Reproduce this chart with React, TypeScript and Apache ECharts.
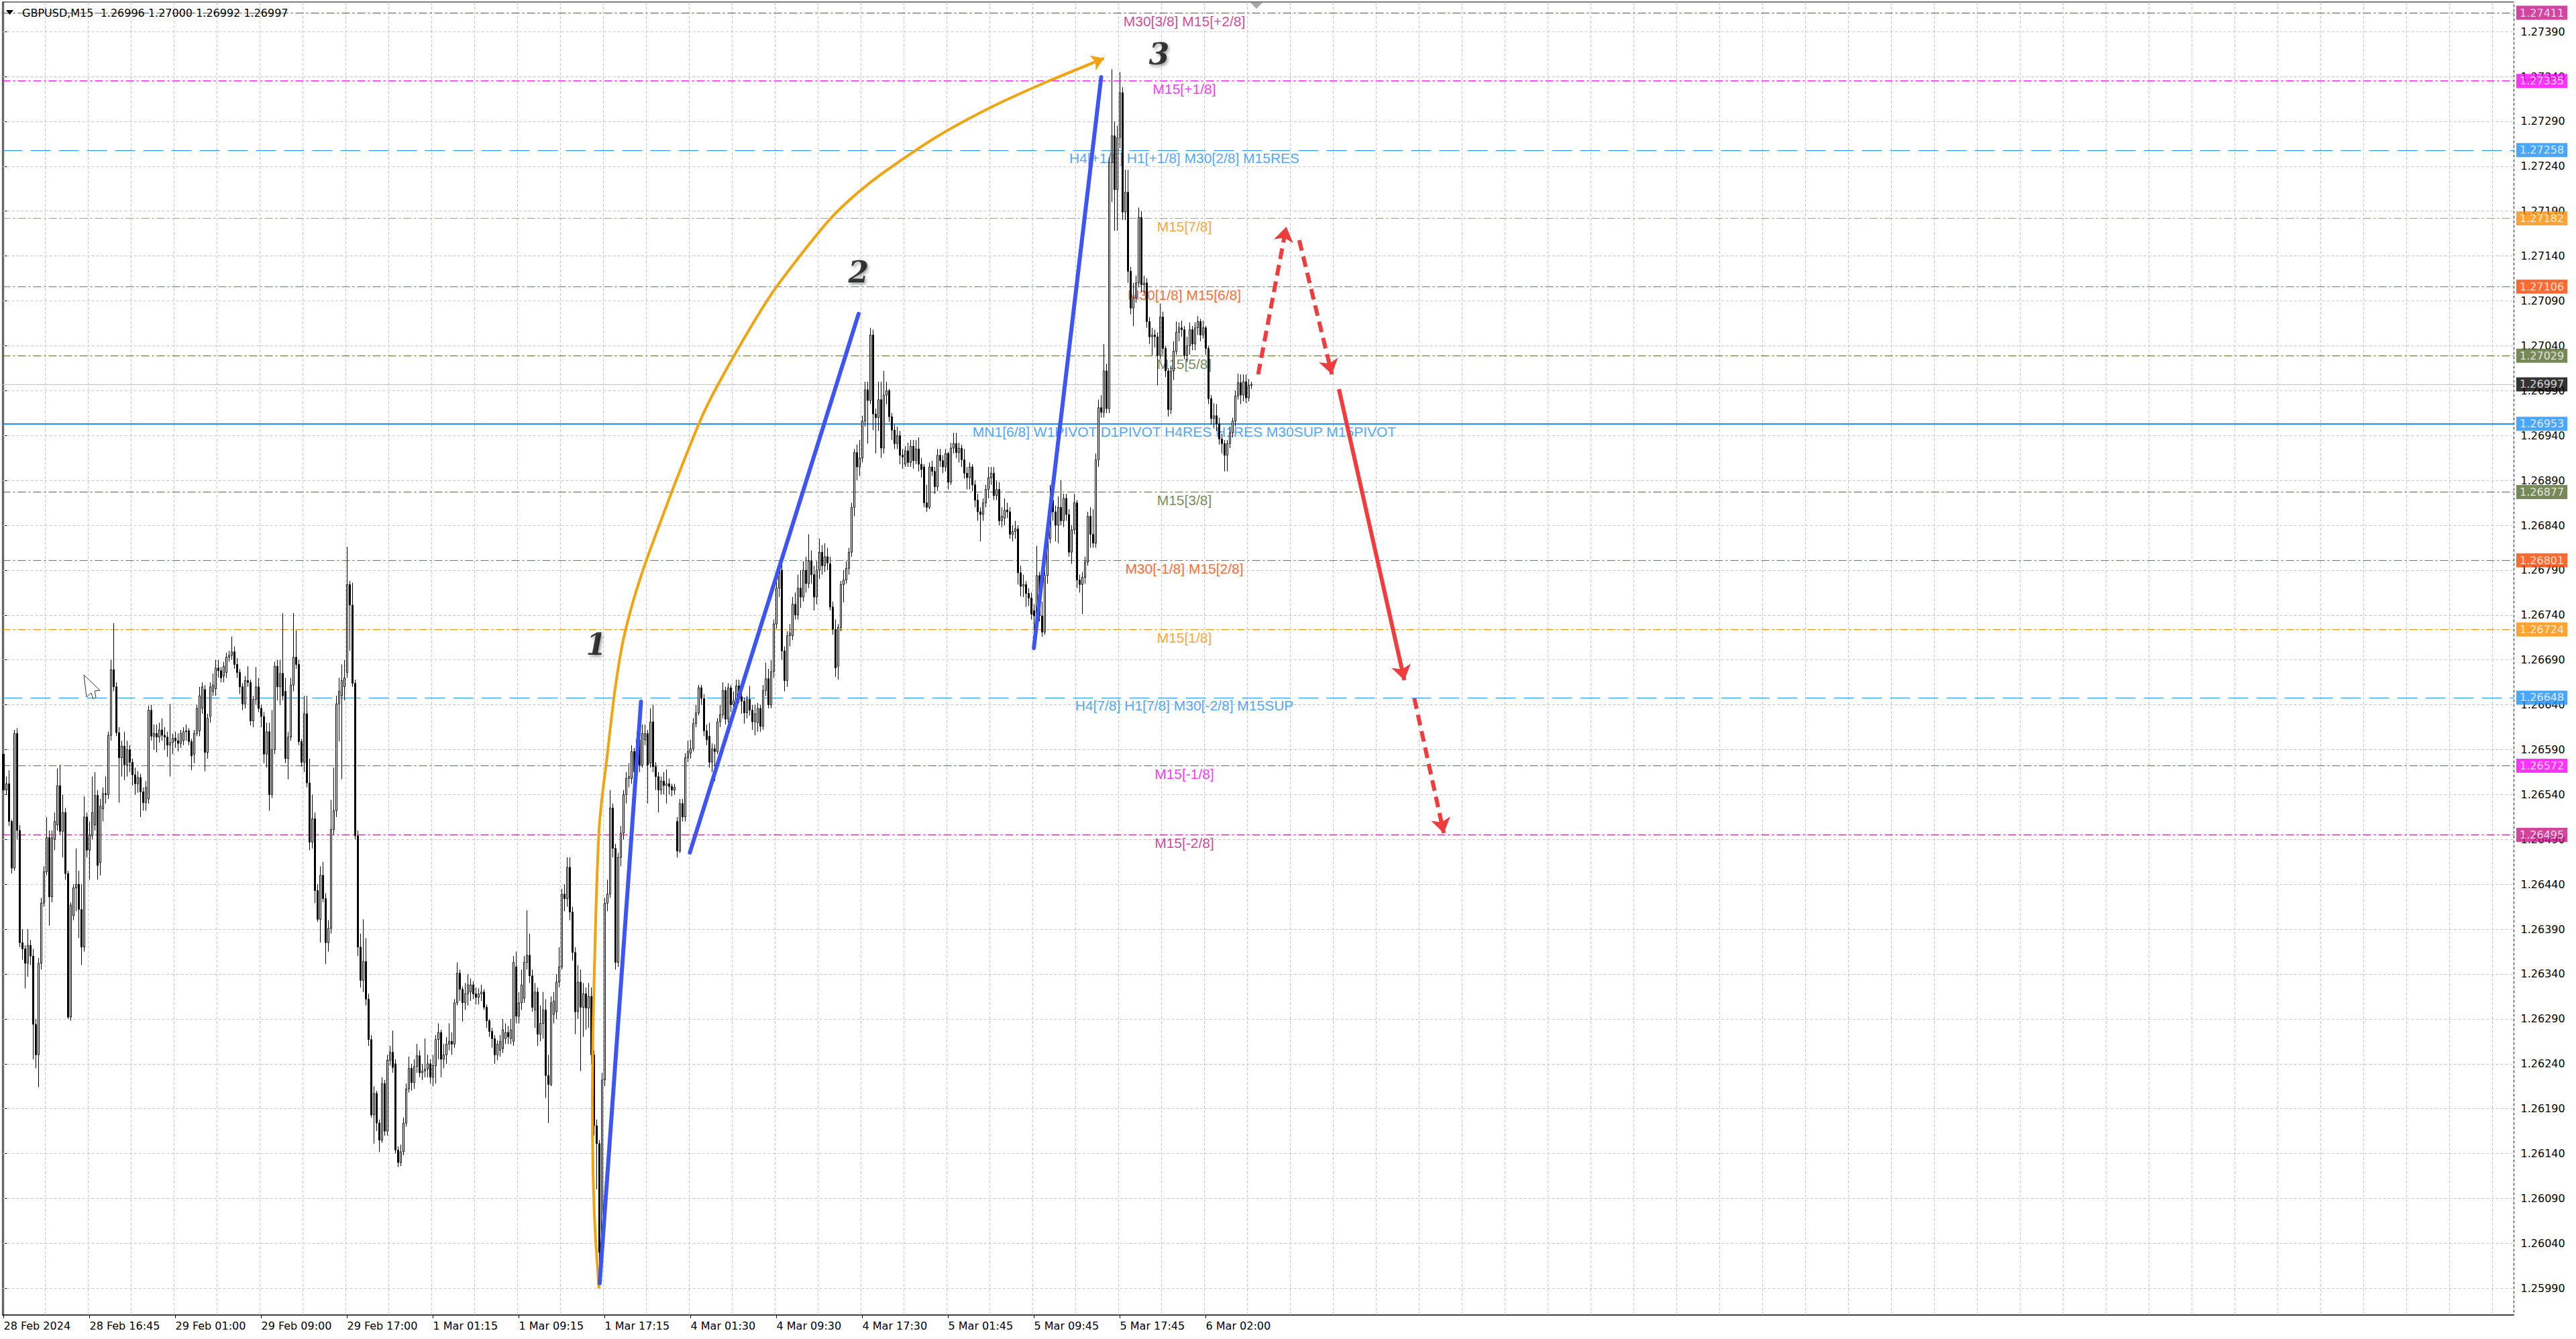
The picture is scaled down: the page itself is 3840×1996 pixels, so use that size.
import React, { useEffect, useRef } from "react";
import * as echarts from "echarts";

// ---------------- DATA ----------------
const SYMBOL = "GBPUSD,M15";
const BASE = 1.26;
const PT = 0.00001;

// rows: [open, high, low, close] in points above 1.26000
const feb28: number[][] = [
  [585,600,538,545],[545,560,540,552],[552,567,505,510],[510,512,452,458],[458,612,455,608],
  [608,614,490,500],[500,506,370,375],[375,390,356,368],[368,372,324,352],[352,390,337,372],
  [372,378,350,360],[360,368,245,284],[284,290,235,250],[250,358,214,352],[352,425,345,419],
  [419,460,415,454],[454,515,450,492],[492,500,394,426],[426,500,420,492],[490,520,478,510],
  [506,569,500,550],[550,573,495,499],[499,540,470,520],[520,525,445,452],[452,455,290,292],
  [292,420,288,417],[405,440,400,436],[436,480,410,440],[440,455,380,412],[412,440,350,370],
  [370,538,365,515],[515,520,470,478],[478,510,445,495],[494,560,490,520],[506,565,500,539],
  [539,545,445,461],[464,535,450,527],[524,548,510,541],[541,560,530,540],[540,610,535,606],
  [606,690,600,679],[679,731,655,660],[660,665,605,609],[609,615,531,581],[581,600,560,594],
  [594,610,556,573],[573,600,560,590],[590,595,565,576],[576,580,550,562],[562,570,540,552],
  [552,566,542,559],[559,563,515,543],[543,548,522,531],[531,555,522,548],[535,639,530,634],
  [634,640,600,605],[605,618,590,608],[608,618,587,604],[604,620,598,612],[612,625,600,606],
  [606,615,590,604],
];
const feb29: number[][] = [
  [604,610,582,595],[595,641,560,598],[598,608,585,603],[603,610,592,600],[600,608,588,597],
  [597,612,592,608],[600,615,595,610],[610,618,600,611],[611,614,595,599],[599,602,567,583],
  [585,612,575,608],[608,640,605,636],[611,660,605,650],[636,665,630,660],[657,662,566,587],
  [587,630,580,625],[627,665,620,660],[655,675,650,662],[658,690,650,681],[681,690,670,678],
  [678,682,665,670],[672,688,665,683],[676,698,670,693],[693,700,688,695],[695,716,690,699],
  [699,705,680,685],[685,692,670,676],[676,680,652,660],[660,664,634,641],[641,672,636,667],
  [667,683,660,665],[665,668,617,622],[622,650,615,646],[646,682,640,660],[660,670,632,636],
  [636,640,615,627],[627,632,575,585],[585,620,570,610],[610,620,522,540],[540,634,536,590],
  [590,688,585,683],[683,690,645,660],[660,690,640,675],[675,742,645,650],[655,670,575,580],
  [580,610,557,604],[604,670,600,662],[662,742,655,693],[693,723,680,685],[685,690,595,599],
  [599,602,571,576],[576,650,565,630],[630,650,548,553],[553,580,478,487],[487,540,480,513],
  [513,520,419,433],[433,440,398,401],[401,460,375,450],[450,465,420,424],[424,430,351,375],
  [375,400,365,391],[391,534,385,501],[501,570,495,522],[522,650,515,641],[641,670,599,655],
  [650,685,557,667],[660,690,645,670],[676,816,670,774],[774,778,700,751],[751,776,660,664],
  [664,668,490,494],[494,500,360,370],[370,385,325,333],[333,401,320,354],[354,380,305,312],
  [312,318,260,267],[267,272,180,183],[183,215,151,207],[207,210,165,174],[174,178,142,155],
  [155,225,152,218],[218,222,160,165],[165,250,160,244],[244,260,238,253],[253,277,230,236],
  [240,245,140,144],[144,148,125,130],[130,150,126,142],[142,180,138,174],[174,218,170,212],
  [212,248,208,235],[235,240,210,219],[219,245,212,237],[237,262,230,249],[249,255,225,230],
  [230,240,222,232],
];
const mar1: number[][] = [
  [232,268,225,234],[234,250,225,240],[240,245,218,225],[225,250,215,238],
  [238,272,218,267],[267,285,245,275],[275,278,225,245],[245,262,235,250],[250,270,240,262],
  [262,285,255,265],[265,275,250,262],[262,312,258,308],[308,353,305,341],[341,345,310,323],
  [323,326,287,308],[308,330,300,318],[318,340,305,328],[320,335,310,328],[328,332,312,318],
  [318,325,306,314],[314,324,306,318],[318,328,310,320],[320,323,300,303],[303,306,280,288],
  [288,290,270,276],[276,280,258,268],[268,272,240,250],[250,266,244,262],[255,272,248,265],
  [257,290,252,278],[268,285,262,275],[275,282,262,270],[268,290,262,278],[265,360,260,353],
  [348,365,285,293],[293,320,285,308],[308,345,300,328],[313,360,308,353],[353,411,345,361],
  [361,385,330,338],[338,345,298,303],[300,330,280,320],[320,325,260,273],[273,305,265,285],
  [285,320,268,300],[300,312,202,227],[227,250,174,217],[217,315,215,308],[295,320,285,310],
  [298,340,290,331],[331,370,325,348],[348,435,345,429],[429,440,410,424],[424,470,415,459],
  [459,470,400,409],[409,415,355,364],[364,370,273,298],[298,350,290,331],[331,345,232,303],
  [303,330,270,318],[318,325,278,302],[302,330,280,315],[315,325,240,250],[250,255,160,171],
  [171,178,100,151],[151,155,15,30],[30,230,20,222],[222,425,215,419],[419,445,410,429],
  [429,545,425,525],[525,530,470,480],[480,485,345,353],[353,475,348,470],[470,505,460,497],
  [497,545,490,540],[540,565,530,558],[558,575,548,560],[558,595,552,588],[588,592,555,565],
  [563,610,558,601],[601,606,565,573],[573,618,570,608],[601,618,595,608],[608,612,530,573],
  [575,636,570,621],[621,640,565,571],[571,576,545,560],[560,565,520,545],[545,560,540,555],
  [555,565,540,550],[550,568,530,552],[552,558,540,549],[549,552,538,545],[545,552,540,548],
];
const mar4: number[][] = [
  [510,515,470,477],[477,535,475,530],[530,535,510,515],[515,586,510,581],[581,600,576,588],
  [586,601,580,591],[591,625,588,619],[619,640,615,631],[631,662,628,659],[659,662,640,647],
  [647,652,605,611],[611,618,595,601],[605,620,570,576],[576,597,565,591],[591,596,555,588],
  [588,625,585,621],[621,640,615,629],[629,665,625,656],[656,660,618,624],[624,664,620,659],
  [659,662,632,640],[640,655,635,645],[645,668,640,661],[661,668,642,649],[649,656,630,644],
  [644,648,619,631],[631,650,625,646],[646,661,628,634],[634,640,612,621],[621,640,606,630],
  [620,642,610,636],[636,640,610,616],[616,662,612,656],[656,687,650,669],[669,680,636,640],
  [640,690,636,677],[677,735,670,730],[730,780,725,770],[770,800,760,790],[790,800,690,700],
  [700,705,655,667],[667,722,660,717],[717,730,705,720],[717,760,712,752],[752,765,735,740],
  [740,785,735,770],[770,790,748,760],[760,800,755,790],[790,805,765,775],[775,830,770,800],
  [800,812,775,785],[785,795,745,760],[760,800,752,790],[790,825,780,810],[810,818,785,795],
  [795,820,788,805],[805,815,790,798],[797,805,745,749],[749,755,718,724],[724,735,671,681],
  [683,730,668,726],[726,778,722,774],[774,790,754,779],[779,800,775,792],[792,815,785,810],
  [810,865,805,860],[860,925,850,921],[921,930,890,905],[905,935,895,915],[915,962,910,956],
  [956,1000,950,991],[991,1000,931,979],[979,1060,975,1052],[1052,1058,946,964],[964,970,920,960],
  [960,1000,945,980],[980,1000,915,926],[926,1012,920,985],[985,1000,975,990],[990,992,955,961],
  [961,965,935,946],[946,952,925,931],[931,950,925,940],[940,945,908,918],[918,925,903,916],
  [908,928,905,923],[923,932,905,910],[910,935,905,928],[928,935,903,912],[912,935,908,925],
  [925,938,900,908],[908,915,893,902],[905,908,860,865],[865,885,855,860],[860,910,858,905],
  [905,912,895,900],
];
const mar5: number[][] = [
  [900,905,875,883],[883,925,878,918],[918,925,905,912],[912,918,898,905],
  [905,925,900,920],[920,922,880,888],[888,932,885,926],[926,943,920,931],[931,943,915,921],
  [921,932,910,926],[926,930,905,913],[913,925,892,898],[898,905,880,893],[893,910,880,905],
  [905,908,878,885],[885,890,860,868],[868,875,845,855],[855,860,822,852],[852,870,845,865],
  [865,885,860,880],[880,905,870,893],[893,905,885,898],[898,905,868,873],[873,890,868,880],
  [880,888,840,845],[845,860,838,850],[848,870,840,857],[857,865,848,855],[855,860,825,830],
  [830,840,822,833],[833,845,825,836],[836,840,774,787],[787,795,761,772],[772,785,760,774],
  [774,778,749,764],[764,770,750,759],[759,765,735,741],[745,752,721,739],[739,817,735,784],
  [784,788,733,739],[739,755,716,721],[721,790,718,784],[784,830,775,825],[825,885,820,868],
  [868,885,845,855],[855,862,822,840],[840,872,820,860],[860,890,840,845],[845,875,838,870],
  [870,875,845,852],[852,858,805,810],[810,840,797,835],[835,875,830,865],[865,868,770,779],
  [779,785,765,774],[774,788,741,782],[782,805,775,799],[799,855,795,850],[850,860,815,830],
  [830,858,815,820],[820,920,815,913],[913,980,905,971],[971,985,960,966],[966,1042,960,1012],
  [1012,1020,965,970],[970,1250,965,1244],[1244,1348,1200,1274],[1274,1290,1168,1214],[1214,1285,1168,1272],
  [1272,1345,1260,1322],[1322,1328,1180,1189],[1189,1236,1180,1211],[1211,1236,1110,1123],[1123,1128,1075,1082],
  [1082,1110,1062,1093],[1093,1118,1088,1110],[1110,1194,1105,1183],[1183,1190,1100,1108],[1108,1118,1098,1110],
  [1110,1115,1060,1067],[1067,1072,1042,1050],[1050,1060,1029,1052],[1052,1058,1038,1050],[1050,1055,996,1029],
  [1029,1087,1025,1072],[1072,1078,1030,1037],[1037,1040,1005,1012],[1012,1015,961,969],[969,1018,964,1012],
  [1012,1045,1002,1034],[1034,1067,1030,1055],[1055,1066,1045,1060],[1060,1068,1050,1058],
];
const mar6: number[][] = [
  [1058,1062,1025,1029],[1029,1050,1022,1040],[1040,1066,1030,1058],[1058,1062,1035,1042],[1042,1066,1035,1060],
  [1060,1073,1052,1067],[1067,1070,1045,1052],[1052,1068,1048,1060],[1060,1062,1030,1037],[1037,1040,975,981],
  [981,985,952,959],[959,976,948,962],[962,975,945,953],[953,960,930,936],[936,942,920,931],
  [931,935,900,918],[918,935,900,931],[931,950,926,943],[943,960,938,956],[956,990,950,984],
  [984,1009,980,999],[999,1008,975,985],[985,1008,978,1000],[1000,1008,976,982],[982,1003,978,996],
  [996,1000,992,997],
];

const xTickLabels = [
  "28 Feb 2024", "28 Feb 16:45", "29 Feb 01:00", "29 Feb 09:00", "29 Feb 17:00",
  "1 Mar 01:15", "1 Mar 09:15", "1 Mar 17:15", "4 Mar 01:30", "4 Mar 09:30",
  "4 Mar 17:30", "5 Mar 01:45", "5 Mar 09:45", "5 Mar 17:45", "6 Mar 02:00",
];
const BARS_PER_LABEL = 32;
const TOTAL_SLOTS = 936;

const yTicks = [
  1.25990, 1.26040, 1.26090, 1.26140, 1.26190, 1.26240, 1.26290, 1.26340, 1.26390, 1.26440,
  1.26490, 1.26540, 1.26590, 1.26640, 1.26690, 1.26740, 1.26790, 1.26840, 1.26890, 1.26940,
  1.26990, 1.27040, 1.27090, 1.27140, 1.27190, 1.27240, 1.27290, 1.27340, 1.27390,
];
const Y_MIN = 1.259603;
const Y_MAX = 1.27423;

const levelPrices = [1.27411, 1.27335, 1.27258, 1.27182, 1.27106, 1.27029, 1.26953, 1.26877, 1.26801, 1.26724, 1.26648, 1.26572, 1.26495];
const levelNames = [
  "M30[3/8] M15[+2/8]", "M15[+1/8]", "H4[+1/8] H1[+1/8] M30[2/8] M15RES", "M15[7/8]",
  "M30[1/8] M15[6/8]", "M15[5/8]", "MN1[6/8] W1PIVOT D1PIVOT H4RES H1RES M30SUP M15PIVOT",
  "M15[3/8]", "M30[-1/8] M15[2/8]", "M15[1/8]", "H4[7/8] H1[7/8] M30[-2/8] M15SUP",
  "M15[-1/8]", "M15[-2/8]",
];
const levelColors = ["#C71585", "#FF00FF", "#1E90FF", "#FF8C00", "#FF4500", "#556B2F", "#1E90FF", "#556B2F", "#FF4500", "#FF8C00", "#1E90FF", "#FF00FF", "#C71585"];
const levelKinds = ["dashdot", "dashdot", "dash", "dashdot", "dashdot", "dashdot", "solid", "dashdot", "dashdot", "dashdot", "dash", "dashdot", "dashdot"];
const LEVEL_TEXT_BAR = 440;

// hand-drawn annotations, in [bar index, price]
const orangeArc = [
  [221.85, 1.259895], [220.35, 1.260575], [219.6, 1.261247], [219.35, 1.261965], [219.6, 1.262742],
  [220.1, 1.263415], [220.85, 1.264237], [221.84, 1.264999], [223.09, 1.265396], [224.59, 1.265754],
  [227.58, 1.266517], [230.57, 1.267077], [234.31, 1.267526], [238.05, 1.267884], [241.79, 1.268198],
  [251.01, 1.268931], [261.23, 1.269678], [272.94, 1.270329], [285.66, 1.270956], [296.62, 1.271397],
  [307.84, 1.271808], [318.06, 1.2721], [328.3, 1.272339], [348.5, 1.272743], [368.9, 1.273072],
  [389.3, 1.273348], [410.0, 1.273602],
];
const blueLegs = [
  [[222.1, 1.259954], [237.5, 1.266434]],
  [[255.7, 1.264753], [318.6, 1.270755]],
  [[383.9, 1.267032], [409.0, 1.273393]],
];
const redArrows = [
  { coords: [[467.5, 1.270082], [478.0, 1.271726]], dashed: true },
  { coords: [[482.8, 1.271577], [495.0, 1.270082]], dashed: true },
  { coords: [[497.6, 1.269917], [522.0, 1.266674]], dashed: false },
  { coords: [[525.7, 1.266472], [536.7, 1.264970]], dashed: true },
];
const waveLabels = ["1", "2", "3"];
const wavePos = [[220.8, 1.26707], [318.6, 1.27122], [430.6, 1.27365]];

// ---------------- CHART ----------------
const toPrice = (p: number) => Number((BASE + p * PT).toFixed(5));
const FONT = "DejaVu Sans";
const X_LEFT = -0.5;
const X_RIGHT = TOTAL_SLOTS - 0.5;

function dashFor(kind: string): any {
  if (kind === "solid") return "solid";
  if (kind === "dash") return [30, 12];
  return [12, 4, 3, 4];
}

function boxLabel(text: string, bg: string) {
  return {
    show: true, position: "right", distance: 3, formatter: text,
    color: "#fff", backgroundColor: bg, padding: [3, 5, 2, 5],
    fontSize: 16, fontFamily: FONT,
  };
}

function buildOption() {
  const bars = [...feb28, ...feb29, ...mar1, ...mar4, ...mar5, ...mar6];
  const candleData = bars.map(([o, h, l, c]) => [toPrice(o), toPrice(c), toPrice(l), toPrice(h)]);
  const last = bars[bars.length - 1];
  const bid = toPrice(last[3]);
  const header = `${SYMBOL}  ${toPrice(last[0]).toFixed(5)} ${toPrice(last[1]).toFixed(5)} ${toPrice(last[2]).toFixed(5)} ${toPrice(last[3]).toFixed(5)}`;

  const isLabelIdx = (i: number) => i % BARS_PER_LABEL === 0 && i / BARS_PER_LABEL < xTickLabels.length;

  const levelData: any[] = levelPrices.map((p, i) => ({
    coords: [[X_LEFT, p], [X_RIGHT, p]],
    lineStyle: { color: levelColors[i], width: levelKinds[i] === "solid" ? 2 : 1, type: dashFor(levelKinds[i]), opacity: 1 },
  }));
  const bidData = [{
    coords: [[X_LEFT, bid], [X_RIGHT, bid]],
    lineStyle: { color: "#c0c0c0", width: 1, type: "solid", opacity: 1 },
  }];

  // price boxes on the right edge, placed through the axes
  const boxPrices = [bid, ...levelPrices];
  const boxColors = ["#000", ...levelColors];

  const n = orangeArc.length;

  return {
    animation: false,
    backgroundColor: "#fff",
    grid: { left: 3.5, top: 3, right: 92.5, bottom: 36, show: true, borderColor: "#000", borderWidth: 1, backgroundColor: "#fff" },
    xAxis: [
      {
        type: "category",
        data: Array.from({ length: TOTAL_SLOTS }, (_, i) => String(i)),
        boundaryGap: true,
        axisLine: { show: true, lineStyle: { color: "#000", width: 1 } },
        axisTick: { show: true, alignWithLabel: true, length: 5, interval: (i: number) => isLabelIdx(i), lineStyle: { color: "#000" } },
        axisLabel: {
          show: true, interval: (i: number) => isLabelIdx(i),
          formatter: (v: string) => { const i = parseInt(v, 10); return isLabelIdx(i) ? xTickLabels[i / BARS_PER_LABEL] : ""; },
          align: "left", margin: 8, color: "#000", fontSize: 16, fontFamily: FONT,
        },
        splitLine: { show: true, interval: (i: number) => i % 16 === 0 && i > 0, lineStyle: { color: "#c8c8c8", type: [4, 3], width: 1 } },
      },
      { type: "value", min: X_LEFT, max: X_RIGHT, show: false },
    ],
    yAxis: {
      type: "value", position: "right", min: Y_MIN, max: Y_MAX, scale: true,
      axisLine: { show: true, lineStyle: { color: "#000", width: 1 } },
      axisTick: { show: true, length: 5, customValues: yTicks, lineStyle: { color: "#000" } },
      axisLabel: { customValues: yTicks, formatter: (v: number) => v.toFixed(5), color: "#000", fontSize: 16, fontFamily: FONT, margin: 10 },
      splitLine: { show: false },
    },
    series: [
      {
        type: "lines", name: "hgrid", coordinateSystem: "cartesian2d", xAxisIndex: 1, yAxisIndex: 0, z: 1, silent: true,
        symbol: ["none", "none"],
        lineStyle: { color: "#c8c8c8", type: [4, 3], width: 1, opacity: 1 },
        data: yTicks.map((t) => ({ coords: [[X_LEFT, t], [X_RIGHT, t]] })),
      },
      {
        type: "lines", name: "levels", coordinateSystem: "cartesian2d", xAxisIndex: 1, yAxisIndex: 0, z: 2, silent: true,
        symbol: ["none", "none"],
        lineStyle: { opacity: 1 },
        data: [...bidData, ...levelData],
      },
      {
        type: "scatter", name: "priceBoxes", xAxisIndex: 1, silent: true, z: 20, zlevel: 1, symbolSize: 1, clip: false,
        itemStyle: { color: "rgba(0,0,0,0)" },
        data: boxPrices.map((p, i) => ({
          value: [X_RIGHT, p],
          label: boxLabel(p.toFixed(5), boxColors[i]),
        })),
      },
      {
        type: "scatter", name: "levelText", xAxisIndex: 1, silent: true, z: 3, symbolSize: 1,
        itemStyle: { color: "rgba(0,0,0,0)" },
        data: levelPrices.map((p, i) => ({
          value: [LEVEL_TEXT_BAR, p],
          label: { show: true, position: "bottom", distance: 1, formatter: levelNames[i], color: levelColors[i], fontSize: 21, fontFamily: "Liberation Sans" },
        })),
      },
      {
        type: "candlestick", name: SYMBOL, xAxisIndex: 0, z: 4, barWidth: 2,
        itemStyle: { color: "#ffffff", color0: "#000000", borderColor: "#000000", borderColor0: "#000000", borderWidth: 1 },
        data: candleData,
      },
      {
        type: "line", name: "arc", xAxisIndex: 1, z: 5, smooth: 0.25, symbol: "none", showSymbol: false, silent: true,
        lineStyle: { color: "#F2A30F", width: 4 },
        data: orangeArc,
      },
      {
        type: "lines", coordinateSystem: "cartesian2d", xAxisIndex: 1, yAxisIndex: 0, z: 5, silent: true,
        symbol: ["none", "arrow"], symbolSize: 18,
        lineStyle: { color: "#F2A30F", width: 4, opacity: 1 },
        data: [{ coords: [orangeArc[n - 2], orangeArc[n - 1]] }],
      },
      {
        type: "lines", coordinateSystem: "cartesian2d", xAxisIndex: 1, yAxisIndex: 0, z: 6, silent: true,
        symbol: ["none", "none"],
        lineStyle: { color: "#3D55F2", width: 6, opacity: 1, cap: "round" },
        data: blueLegs.map((c) => ({ coords: c })),
      },
      {
        type: "lines", coordinateSystem: "cartesian2d", xAxisIndex: 1, yAxisIndex: 0, z: 6, silent: true,
        symbol: ["none", "arrow"], symbolSize: 22,
        lineStyle: { color: "#F03C3C", width: 6, opacity: 1 },
        data: redArrows.map((r) => ({
          coords: r.coords,
          lineStyle: { color: "#F03C3C", width: 6, opacity: 1, type: r.dashed ? [16, 9] : "solid" },
        })),
      },
      {
        type: "scatter", name: "waves", xAxisIndex: 1, silent: true, z: 7, symbolSize: 1,
        itemStyle: { color: "rgba(0,0,0,0)" },
        data: wavePos.map((p, i) => ({
          value: p,
          label: {
            show: true, position: "inside", formatter: waveLabels[i], color: "#111",
            fontSize: 44, fontFamily: "DejaVu Serif", fontWeight: "bold", fontStyle: "italic",
            textShadowColor: "rgba(0,0,0,0.45)", textShadowBlur: 4, textShadowOffsetX: 2, textShadowOffsetY: 3,
          },
        })),
      },
    ],
    graphic: [
      { type: "polygon", shape: { points: [[9, 15], [20, 15], [14.5, 22]] }, style: { fill: "#000" }, z: 100 },
      { type: "text", x: 33, y: 19, style: { text: header, fill: "#000", font: `16px '${FONT}'`, verticalAlign: "middle" }, z: 100 },
      { type: "polygon", shape: { points: [[1864, 4], [1882, 4], [1873, 13]] }, style: { fill: "#a8a8a8" }, z: 100 },
      {
        type: "polygon",
        shape: { points: [[125, 1006], [149, 1029], [141, 1030], [143, 1039], [139, 1042], [136, 1033], [129, 1039]] },
        style: { fill: "#fff", stroke: "#333", lineWidth: 1 }, z: 100,
      },
    ],
  };
}

export default function App() {
  const ref = useRef<HTMLDivElement>(null);
  useEffect(() => {
    if (!ref.current) return;
    const chart = echarts.init(ref.current, null, { renderer: "svg" });
    chart.setOption(buildOption() as any);
    return () => chart.dispose();
  }, []);
  return (
    <div
      ref={ref}
      style={{ position: "fixed", left: 0, top: 0, width: 3840, height: 1996, background: "#fff" }}
    />
  );
}
